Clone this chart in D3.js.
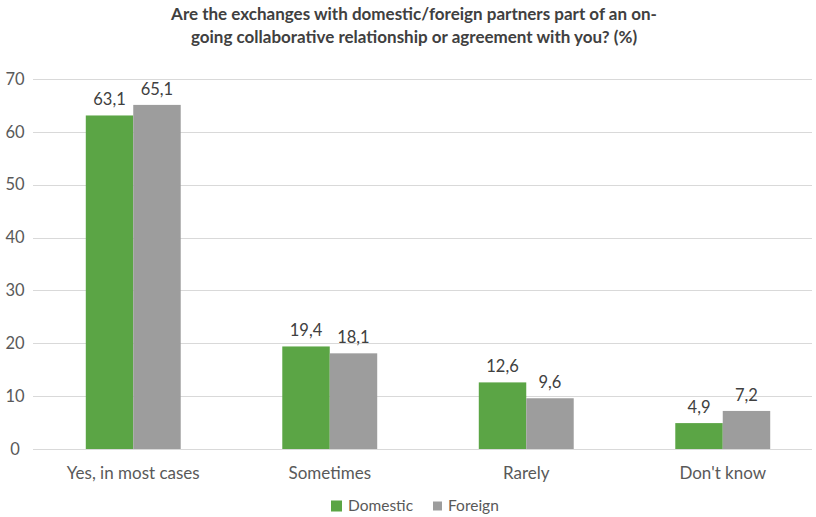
<!DOCTYPE html>
<html>
<head>
<meta charset="utf-8">
<script src="https://cdn.jsdelivr.net/npm/d3@7"></script>
<style>
  html, body { margin: 0; padding: 0; background: #ffffff; }
  svg { display: block; font-family: Lato, "Open Sans", sans-serif; }
</style>
</head>
<body>
<svg id="chart" width="816" height="517"></svg>
<script>
// Survey answers and the two partner groups
const categories = ["Yes, in most cases", "Sometimes", "Rarely", "Don't know"];
const seriesNames = ["Domestic", "Foreign"];
const domestic = [63.1, 19.4, 12.6, 4.9];
const foreign = [65.1, 18.1, 9.6, 7.2];
const yTicks = [0, 10, 20, 30, 40, 50, 60, 70];
const titleLines = [
  "Are the exchanges with domestic/foreign partners part of an on-",
  "going collaborative relationship or agreement with you? (%)"
];

const colors = { Domestic: "#5ba545", Foreign: "#9d9d9d" };
const textColor = "#595959";

const svg = d3.select("#chart");
const margin = { left: 35, right: 0, top: 79, bottom: 68 };
const width = 816, height = 517;

const x0 = d3.scaleBand()
  .domain(categories)
  .range([margin.left, margin.left + 4 * 196.5])
  .paddingInner(0)
  .paddingOuter(0);

const x1 = d3.scaleBand()
  .domain(seriesNames)
  .range([0, x0.bandwidth()])
  .paddingOuter(1.07)
  .paddingInner(0);

const y = d3.scaleLinear()
  .domain([0, 70])
  .range([height - margin.bottom, margin.top]);

// Title
svg.append("g").selectAll("text")
  .data(titleLines)
  .join("text")
  .attr("x", 414)
  .attr("y", (d, i) => 20 + i * 22.5)
  .attr("text-anchor", "middle")
  .attr("font-size", 17)
  .attr("font-weight", 700)
  .attr("fill", "#404040")
  .text(d => d);

// Gridlines
svg.append("g")
  .selectAll("line")
  .data(yTicks)
  .join("line")
  .attr("x1", 33)
  .attr("x2", 812)
  .attr("y1", d => Math.round(y(d)) + 0.5)
  .attr("y2", d => Math.round(y(d)) + 0.5)
  .attr("stroke", "#d9d9d9")
  .attr("stroke-width", 1);

// Y axis labels
const yAxis = d3.axisLeft(y).tickValues(yTicks).tickSize(0).tickPadding(0);
const ya = svg.append("g").attr("transform", "translate(15,0)").call(yAxis);
ya.select(".domain").remove();
ya.selectAll("text")
  .attr("font-size", 16.5)
  .attr("font-family", "Lato, sans-serif")
  .attr("fill", textColor)
  .attr("text-anchor", "middle")
  .attr("x", 0);

// Bars
const rows = categories.map((c, i) => ({ cat: c, values: [
  { key: "Domestic", value: domestic[i] },
  { key: "Foreign", value: foreign[i] }
]}));

const groups = svg.append("g")
  .selectAll("g")
  .data(rows)
  .join("g")
  .attr("transform", d => `translate(${x0(d.cat)},0)`);

groups.selectAll("rect")
  .data(d => d.values)
  .join("rect")
  .attr("x", d => x1(d.key))
  .attr("width", x1.bandwidth())
  .attr("y", d => y(d.value))
  .attr("height", d => y(0) - y(d.value))
  .attr("fill", d => colors[d.key]);

groups.selectAll("text.val")
  .data(d => d.values)
  .join("text")
  .attr("class", "val")
  .attr("x", d => x1(d.key) + x1.bandwidth() / 2)
  .attr("y", d => y(d.value) - 10)
  .attr("text-anchor", "middle")
  .attr("font-size", 16.5)
  .attr("fill", "#404040")
  .text(d => d3.format(".1f")(d.value).replace(".", ","));

// Category axis
const xAxis = d3.axisBottom(x0).tickSize(0).tickPadding(0);
const xa = svg.append("g").attr("transform", `translate(0,${y(0)})`).call(xAxis);
xa.select(".domain").remove();
xa.selectAll("text")
  .attr("font-size", 17)
  .attr("font-family", "Lato, sans-serif")
  .attr("fill", textColor)
  .attr("dy", 0)
  .attr("y", 30);

// Legend
const legend = svg.append("g").attr("transform", "translate(0,506)");
const legendItems = [
  { key: "Domestic", x: 331, size: 11 },
  { key: "Foreign", x: 433, size: 9 }
];
legend.selectAll("rect")
  .data(legendItems)
  .join("rect")
  .attr("x", d => d.x)
  .attr("y", d => -d.size / 2)
  .attr("width", d => d.size)
  .attr("height", d => d.size)
  .attr("fill", d => colors[d.key]);
legend.selectAll("text")
  .data(legendItems)
  .join("text")
  .attr("x", d => d.x + (d.key === "Domestic" ? 17 : 15))
  .attr("y", 5)
  .attr("font-size", 15.5)
  .attr("fill", textColor)
  .text(d => d.key);
</script>
</body>
</html>
